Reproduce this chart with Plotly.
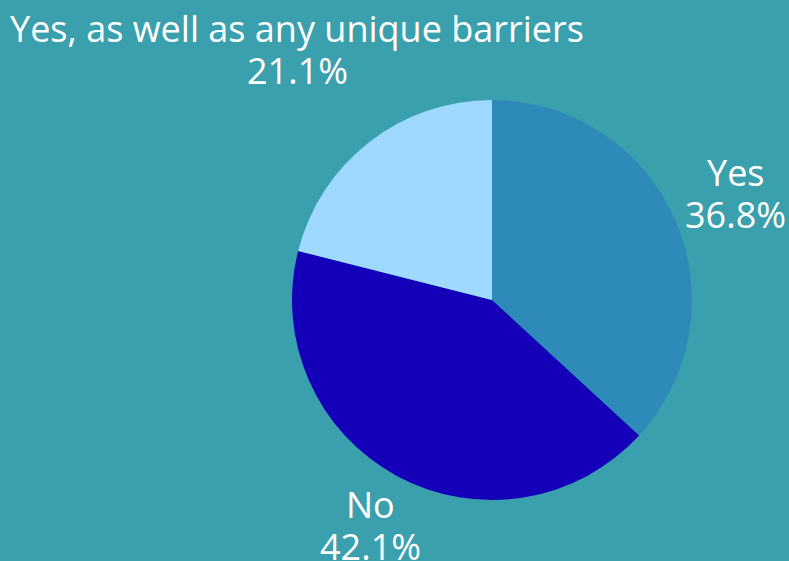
import math
import plotly.graph_objects as go

labels = ["Yes", "No", "Yes, as well as any unique barriers"]
values = [7, 8, 4]
colors = ["#2e8bb9", "#1400b9", "#9fd9ff"]

W, H = 789, 561
CX, CY, R = 492, 300, 200          # pie centre / radius in pixels
label_dist = [1.33, 1.28, 1.585]    # radial distance of label centre (x radius)
LINE_GAP = 42                       # px between the two label lines

fig = go.Figure(go.Pie(
    labels=labels,
    values=values,
    sort=False,
    direction="clockwise",
    rotation=0,
    marker=dict(colors=colors, line=dict(width=0)),
    textinfo="none",
    hoverinfo="label+percent",
    showlegend=False,
    domain=dict(x=[(CX - R) / W, (CX + R) / W],
                y=[(H - CY - R) / H, (H - CY + R) / H]),
))

total = sum(values)
cum = 0
annotations = []
font = dict(family="Open Sans", size=36, color="white")
for lab, v, d in zip(labels, values, label_dist):
    mid = (cum + v / 2) / total * 2 * math.pi
    cum += v
    px = CX + d * R * math.sin(mid)
    py = CY - d * R * math.cos(mid)
    for txt, off in ((lab, -LINE_GAP / 2), (f"{v / total * 100:.1f}%", LINE_GAP / 2)):
        annotations.append(dict(
            x=px / W, y=1 - (py + off) / H, xref="paper", yref="paper",
            text=txt, showarrow=False, xanchor="center", yanchor="middle",
            font=font,
        ))

fig.update_layout(
    width=W, height=H,
    margin=dict(l=0, r=0, t=0, b=0),
    paper_bgcolor="#3ba0ad",
    plot_bgcolor="#3ba0ad",
    annotations=annotations,
)
fig.write_html("out.html")
